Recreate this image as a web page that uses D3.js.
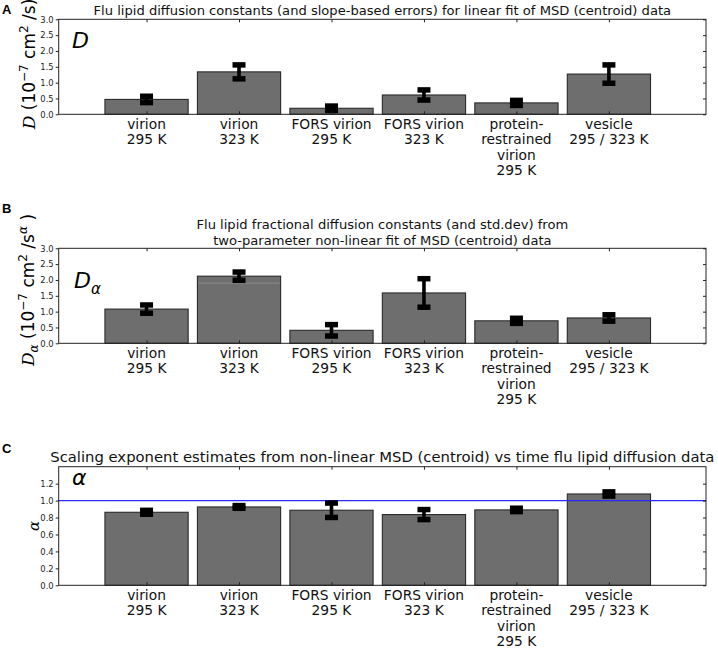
<!DOCTYPE html>
<html>
<head>
<meta charset="utf-8">
<script src="https://cdn.jsdelivr.net/npm/d3@7"></script>
<style>
  html, body { margin: 0; padding: 0; background: #fff; }
  svg { display: block; font-family: "DejaVu Sans", sans-serif; }
</style>
</head>
<body>
<svg id="chart" width="718" height="648"></svg>
<script>
// ---------------- DATA ----------------
const categories = [
  ["virion", "295 K"],
  ["virion", "323 K"],
  ["FORS virion", "295 K"],
  ["FORS virion", "323 K"],
  ["protein-", "restrained", "virion", "295 K"],
  ["vesicle", "295 / 323 K"]
];
// Panel A: D (10^-7 cm^2/s), slope-based errors
const dValues = [0.47, 1.34, 0.19, 0.61, 0.36, 1.27];
const dErrors = [0.10, 0.22, 0.07, 0.16, 0.08, 0.29];
// Panel B: D_alpha (10^-7 cm^2/s^alpha), std.dev
const dAlphaValues = [1.08, 2.12, 0.41, 1.59, 0.71, 0.80];
const dAlphaErrors = [0.13, 0.13, 0.18, 0.45, 0.08, 0.10];
// faint overlay mark seen inside the "virion 323 K" bar of panel B
const dAlphaOverlay = [{ index: 1, value: 1.90 }];
// Panel C: alpha
const alphaValues = [0.862, 0.925, 0.886, 0.835, 0.890, 1.078];
const alphaErrors = [0.023, 0.016, 0.085, 0.059, 0.020, 0.025];
// tick labels
const ticksAB = [0, 0.5, 1.0, 1.5, 2.0, 2.5, 3.0];
const ticksC = [0, 0.2, 0.4, 0.6, 0.8, 1.0, 1.2];
const alphaReference = [1.0];

// ---------------- LAYOUT ----------------
const svg = d3.select("#chart");
const X0 = 58.7, X1 = 706;
const x = d3.scaleLinear().domain([0, 7]).range([X0, X1]);
const barLeft = i => i + 0.5, barW = 0.9;
const barCenter = i => i + 0.95;

const panels = [
  { letter: "A", top: 19.3, bottom: 114.3, ymax: 3.0, ticks: ticksAB,
    values: dValues, errors: dErrors, letterY: 14, overlay: [],
    titles: ["Flu lipid diffusion constants (and slope-based errors) for linear fit of MSD (centroid) data"],
    titleY: [14.5], titleSize: 13.1, refLine: null },
  { letter: "B", top: 248.3, bottom: 343.3, ymax: 3.0, ticks: ticksAB,
    values: dAlphaValues, errors: dAlphaErrors, letterY: 213, overlay: dAlphaOverlay,
    titles: ["Flu lipid fractional diffusion constants (and std.dev) from",
             "two-parameter non-linear fit of MSD (centroid) data"],
    titleY: [229, 244.5], titleSize: 13.1, refLine: null },
  { letter: "C", top: 466.7, bottom: 585.3, ymax: 1.4, ticks: ticksC,
    values: alphaValues, errors: alphaErrors, letterY: 453, overlay: [],
    titles: ["Scaling exponent estimates from non-linear MSD (centroid) vs time flu lipid diffusion data"],
    titleY: [461.5], titleSize: 14.8, refLine: alphaReference }
];

panels.forEach(p => {
  const y = d3.scaleLinear().domain([0, p.ymax]).range([p.bottom, p.top]);
  const g = svg.append("g");

  // panel letter
  svg.append("text").attr("x", 2).attr("y", p.letterY)
    .attr("font-family", "Liberation Sans, Arial, sans-serif")
    .attr("font-weight", "bold").attr("font-size", 13).text(p.letter);

  // title
  p.titles.forEach((t, k) => {
    g.append("text").attr("x", (X0 + X1) / 2).attr("y", p.titleY[k])
      .attr("text-anchor", "middle").attr("font-size", p.titleSize)
      .attr("fill", "#111").text(t);
  });

  // bars
  g.selectAll("rect.bar").data(p.values).join("rect").attr("class", "bar")
    .attr("x", (d, i) => x(barLeft(i)))
    .attr("width", x(barW) - x(0))
    .attr("y", d => y(d))
    .attr("height", d => y(0) - y(d))
    .attr("fill", "#6e6e6e").attr("stroke", "#2a2a2a").attr("stroke-width", 1.1);

  // faint overlay line
  g.selectAll("line.ov").data(p.overlay).join("line").attr("class", "ov")
    .attr("x1", d => x(barLeft(d.index)) + 1).attr("x2", d => x(barLeft(d.index) + barW) - 1)
    .attr("y1", d => y(d.value)).attr("y2", d => y(d.value))
    .attr("stroke", "#8c8c8c").attr("stroke-width", 1);

  // reference line (alpha = 1)
  if (p.refLine) {
    g.selectAll("line.ref").data(p.refLine).join("line").attr("class", "ref")
      .attr("x1", X0).attr("x2", X1)
      .attr("y1", d => y(d)).attr("y2", d => y(d))
      .attr("stroke", "#2a2aff").attr("stroke-width", 1.2);
  }

  // error bars
  const capW = 13, capH = 5.5, stemW = 3.6;
  const eb = g.selectAll("g.eb").data(p.values.map((v, i) => ({ v, e: p.errors[i], i })))
    .join("g").attr("class", "eb");
  eb.append("rect")
    .attr("x", d => x(barCenter(d.i)) - stemW / 2)
    .attr("width", stemW)
    .attr("y", d => y(d.v + d.e))
    .attr("height", d => y(d.v - d.e) - y(d.v + d.e))
    .attr("fill", "#000");
  eb.append("rect")
    .attr("x", d => x(barCenter(d.i)) - capW / 2).attr("width", capW)
    .attr("y", d => y(d.v + d.e) - capH / 2).attr("height", capH).attr("fill", "#000");
  eb.append("rect")
    .attr("x", d => x(barCenter(d.i)) - capW / 2).attr("width", capW)
    .attr("y", d => y(d.v - d.e) - capH / 2).attr("height", capH).attr("fill", "#000");

  // frame
  g.append("rect").attr("x", X0).attr("y", p.top)
    .attr("width", X1 - X0).attr("height", p.bottom - p.top)
    .attr("fill", "none").attr("stroke", "#222").attr("stroke-width", 1);

  // left axis (outward ticks + labels)
  const leftAxis = d3.axisLeft(y).tickValues(p.ticks).tickFormat(d3.format(".1f"))
    .tickSize(3).tickPadding(2);
  const la = g.append("g").attr("transform", `translate(${X0},0)`).call(leftAxis);
  la.select(".domain").remove();
  la.selectAll("text").attr("font-size", 8.4).attr("fill", "#222")
    .attr("font-family", "DejaVu Sans, sans-serif");
  la.selectAll("line").attr("stroke", "#222");

  // right inner ticks
  const ra = g.append("g").attr("transform", `translate(${X1},0)`)
    .call(d3.axisLeft(y).tickValues(p.ticks).tickSize(3).tickFormat(""));
  ra.select(".domain").remove();
  ra.selectAll("line").attr("stroke", "#222");

  // top / bottom inner ticks at bar centers
  const centers = categories.map((c, i) => barCenter(i));
  const ta = g.append("g").attr("transform", `translate(0,${p.top})`)
    .call(d3.axisBottom(x).tickValues(centers).tickSize(3).tickFormat(""));
  ta.select(".domain").remove();
  ta.selectAll("line").attr("stroke", "#222");
  const ba = g.append("g").attr("transform", `translate(0,${p.bottom})`)
    .call(d3.axisTop(x).tickValues(centers).tickSize(3).tickFormat(""));
  ba.select(".domain").remove();
  ba.selectAll("line").attr("stroke", "#222");

  // category labels
  const cl = g.selectAll("text.cat").data(categories).join("text").attr("class", "cat")
    .attr("text-anchor", "middle").attr("font-size", 13.8).attr("fill", "#111")
    .attr("x", (d, i) => x(barCenter(i)))
    .attr("y", p.bottom + 14.8);
  cl.selectAll("tspan").data(d => d).join("tspan")
    .attr("x", function () { return d3.select(this.parentNode).attr("x"); })
    .attr("dy", (d, k) => k === 0 ? 0 : 15.3)
    .text(d => d);
});

// ---------------- Y LABELS & INNER SYMBOLS ----------------
const serif = "DejaVu Serif, serif";
function yLabel(cx, cy, withAlpha) {
  const t = svg.append("text").attr("transform", `translate(${cx},${cy}) rotate(-90)`)
    .attr("text-anchor", "middle").attr("font-size", 17).attr("fill", "#000");
  t.append("tspan").attr("font-family", serif).attr("font-style", "italic").text("D");
  if (withAlpha) {
    t.append("tspan").attr("font-family", serif).attr("font-style", "italic")
      .attr("font-size", 12).attr("dy", 4).text("α");
    t.append("tspan").attr("dy", -4).text(" (10");
  } else {
    t.append("tspan").text(" (10");
  }
  t.append("tspan").attr("font-size", 12).attr("dy", -7).text("−7");
  t.append("tspan").attr("dy", 7).text(" cm");
  t.append("tspan").attr("font-size", 12).attr("dy", -7).text("2");
  t.append("tspan").attr("dy", 7).text(" /s");
  if (withAlpha) {
    t.append("tspan").attr("font-size", 12).attr("dy", -7)
      .attr("font-family", serif).attr("font-style", "italic").text("α");
    t.append("tspan").attr("dy", 7).text(" )");
  } else {
    t.append("tspan").text(")");
  }
}
yLabel(35, 64, false);
yLabel(34, 290, true);
svg.append("text").attr("transform", "translate(39,526) rotate(-90)")
  .attr("text-anchor", "middle").attr("font-size", 15)
  .attr("font-family", serif).attr("font-style", "italic").text("α");

// inner panel symbols
svg.append("text").attr("x", 72).attr("y", 48).attr("font-size", 22)
  .attr("font-style", "italic").text("D");
const da = svg.append("text").attr("x", 74).attr("y", 288).attr("font-size", 22)
  .attr("font-style", "italic");
da.append("tspan").text("D");
da.append("tspan").attr("font-size", 15).attr("dy", 6).text("α");
svg.append("text").attr("x", 72).attr("y", 485).attr("font-size", 22)
  .attr("font-style", "italic").text("α");
</script>
</body>
</html>
